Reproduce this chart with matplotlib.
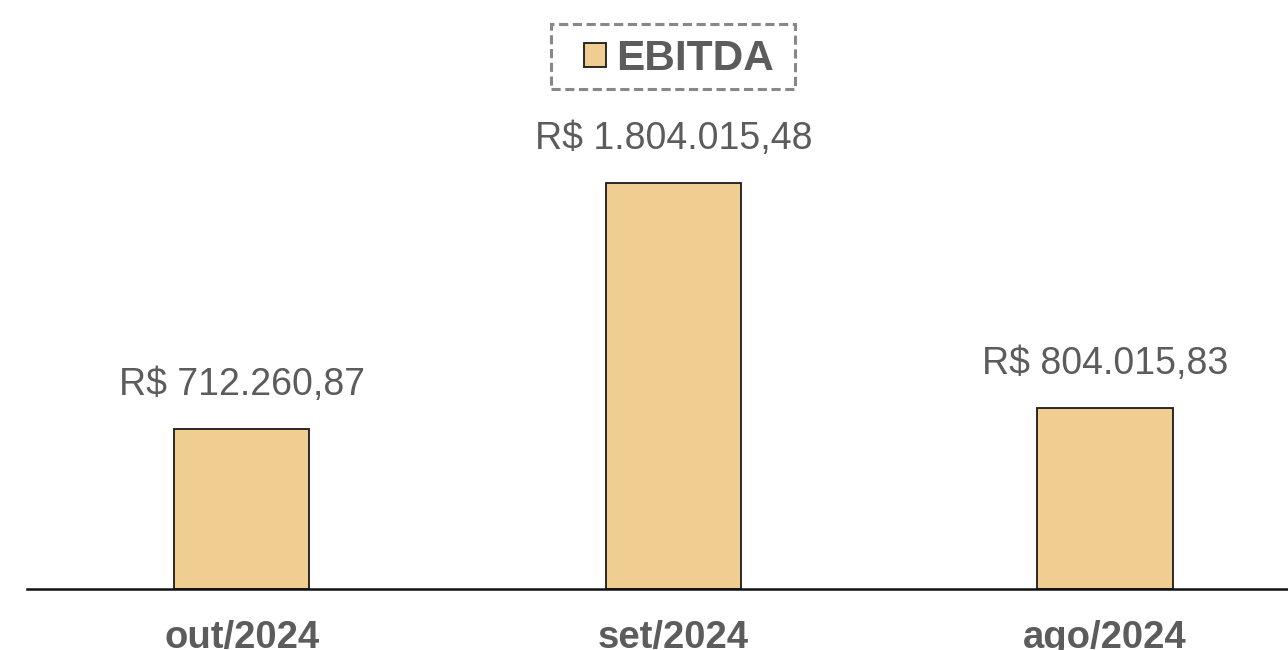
import matplotlib.pyplot as plt
from matplotlib.patches import Patch, Rectangle

plt.rcParams['font.family'] = ['Liberation Sans', 'DejaVu Sans']

months = ["out/2024", "set/2024", "ago/2024"]
ebitda = [712260.87, 1804015.48, 804015.83]
value_labels = ["R$ 712.260,87", "R$ 1.804.015,48", "R$ 804.015,83"]

bar_color = "#F0CD90"
text_color = "#5c5c5c"

fig = plt.figure(figsize=(12.88, 6.5), dpi=100)
ax = fig.add_axes([27 / 1288, 61 / 650, 1261 / 1288, 489 / 650])

x = range(len(months))
ax.bar(x, ebitda, width=0.313, color=bar_color, edgecolor="#1a1a1a", linewidth=1.3, zorder=2)

ax.set_xlim(-0.498, 2.424)
ax.set_ylim(0, 1804015.48 * 489 / 406)

# value labels above bars
for i, v in enumerate(ebitda):
    ax.annotate(value_labels[i], (i, v), xytext=(0, 44), textcoords="offset pixels",
                ha="center", va="center", fontsize=27, color=text_color)

ax.set_xticks(list(x))
ax.set_xticklabels(months, fontsize=27.5, fontweight="bold", color=text_color)
ax.tick_params(axis="x", length=0, pad=22)
ax.set_yticks([])
for s in ["top", "right", "left"]:
    ax.spines[s].set_visible(False)
ax.spines["bottom"].set_linewidth(1.8)
ax.spines["bottom"].set_color("#111111")

handle = Patch(facecolor=bar_color, edgecolor="#1a1a1a", linewidth=1.3)
leg = fig.legend([handle], ["EBITDA"], loc="center", bbox_to_anchor=(679 / 1288, 1 - 59 / 650),
                 prop={"size": 30.5, "weight": "bold"}, labelcolor=text_color,
                 handlelength=0.52, handleheight=0.52, handletextpad=0.26,
                 borderpad=0, borderaxespad=0, frameon=False)

# dashed box around the legend
box = Rectangle((551 / 1288, 1 - 89 / 650), 244 / 1288, 65 / 650, transform=fig.transFigure,
                fill=False, edgecolor="#888888", linewidth=2.2, linestyle=(0, (3, 1.5)))
fig.patches.append(box)

fig.savefig("out.png", dpi=100)
